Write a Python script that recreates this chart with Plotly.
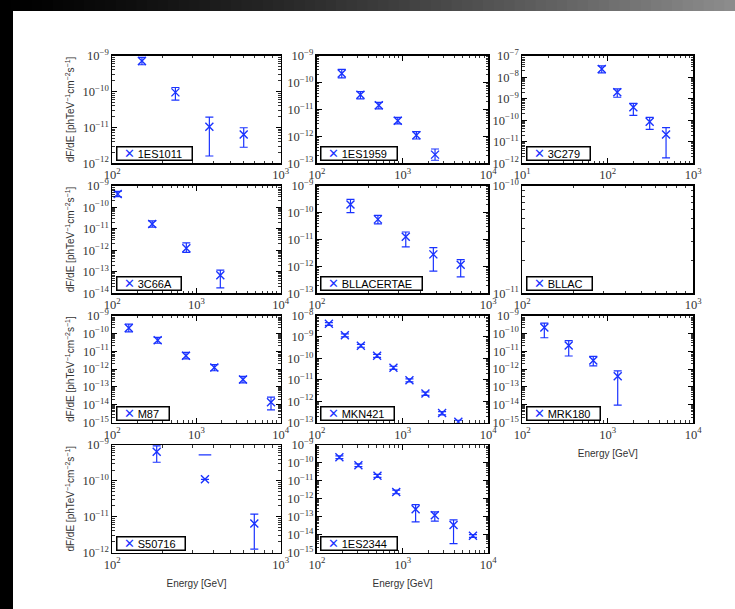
import plotly.graph_objects as go

# ---------------- data ----------------
sources = ["1ES1011", "1ES1959", "3C279", "3C66A", "BLLACERTAE", "BLLAC",
           "M87", "MKN421", "MRK180", "S50716", "1ES2344"]

# energies [GeV]
e_1ES1011 = [150, 237, 377, 603]
e_1ES1959 = [195, 322, 528, 879, 1448, 2391]
e_3C279 = [85, 129, 199, 309, 480]
e_3C66A = [116, 298, 757, 1918]
e_BLLACERTAE = [157, 227, 330, 478, 690]
e_BLLAC = []
e_M87 = [157, 346, 750, 1627, 3566, 7670]
e_MKN421 = [138, 212, 326, 504, 782, 1202, 1847, 2890, 4470]
e_MRK180 = [181, 349, 676, 1306]
e_S50716 = [183.5, 355, 697]
e_1ES2344 = [183, 305, 509, 843, 1419, 2376, 3930, 6620]

# flux dF/dE
f_1ES1011 = [7.1e-10, 9.5e-11, 1.05e-11, 6.4e-12]
f_1ES1959 = [2.2e-10, 3.5e-11, 1.43e-11, 3.8e-12, 1.1e-12, 2.1e-13]
f_3C279 = [2.4e-8, 2.0e-9, 4.0e-10, 8.6e-11, 2.2e-11]
f_3C66A = [4.1e-10, 1.66e-11, 1.23e-12, 6.9e-14]
f_BLLACERTAE = [2.0e-10, 5.6e-11, 1.27e-11, 2.8e-12, 1.16e-12]
f_BLLAC = []
f_M87 = [2.0e-10, 4.1e-11, 5.6e-12, 1.24e-12, 2.6e-13, 1.4e-14]
f_MKN421 = [4.1e-9, 1.2e-9, 3.9e-10, 1.33e-10, 3.7e-11, 9.5e-12, 2.3e-12, 2.8e-13, 1.1e-13]
f_MRK180 = [2.1e-10, 2.1e-11, 3.0e-12, 4.0e-13]
f_S50716 = [6.5e-10, 1.1e-10, 6.4e-12]
f_1ES2344 = [2.1e-10, 7.4e-11, 1.9e-11, 2.4e-12, 2.6e-13, 1.2e-13, 3.4e-14, 8.5e-15]

# upper ends of the error bars
hi_1ES1011 = [9.0e-10, 1.3e-10, 1.95e-11, 9.8e-12]
hi_1ES1959 = [3.1e-10, 4.6e-11, 1.85e-11, 5.1e-12, 1.5e-12, 3.4e-13]
hi_3C279 = [3.4e-8, 2.9e-9, 6.1e-10, 1.37e-10, 4.5e-11]
hi_3C66A = [5.5e-10, 2.3e-11, 2.2e-12, 1.2e-13]
hi_BLLACERTAE = [3.1e-10, 7.9e-11, 1.9e-11, 5.0e-12, 1.8e-12]
hi_BLLAC = []
hi_M87 = [3.3e-10, 6.0e-11, 8.7e-12, 1.8e-12, 3.9e-13, 2.7e-14]
hi_MKN421 = [4.7e-9, 1.4e-9, 4.5e-10, 1.55e-10, 4.3e-11, 1.1e-11, 2.7e-12, 3.3e-13, 1.3e-13]
hi_MRK180 = [3.7e-10, 3.9e-11, 5.2e-12, 7.9e-13]
hi_S50716 = [9.4e-10, 5.3e-10, 1.18e-11]
hi_1ES2344 = [2.5e-10, 8.8e-11, 2.3e-11, 3.0e-12, 4.7e-13, 1.85e-13, 6.7e-14, 1.0e-14]

# lower ends of the error bars (0 = lower end below zero, not drawn)
lo_1ES1011 = [5.6e-10, 5.8e-11, 1.6e-12, 2.8e-12]
lo_1ES1959 = [1.5e-10, 2.5e-11, 1.05e-11, 2.9e-12, 8.0e-13, 1.3e-13]
lo_3C279 = [1.6e-8, 1.17e-9, 1.7e-10, 3.8e-11, 1.8e-12]
lo_3C66A = [3.1e-10, 1.2e-11, 8.0e-13, 1.8e-14]
lo_BLLACERTAE = [1.0e-10, 3.8e-11, 5.3e-12, 6.7e-13, 4.1e-13]
lo_BLLAC = []
lo_M87 = [1.2e-10, 2.8e-11, 3.7e-12, 8.1e-13, 1.7e-13, 5.2e-15]
lo_MKN421 = [3.5e-9, 1.0e-9, 3.3e-10, 1.12e-10, 3.1e-11, 8.0e-12, 1.9e-12, 2.3e-13, 0.9e-13]
lo_MRK180 = [5.7e-11, 5.4e-12, 1.5e-12, 9.7e-15]
lo_S50716 = [3.3e-10, 0.0, 1.24e-12]
lo_1ES2344 = [1.75e-10, 6.2e-11, 1.55e-11, 1.9e-12, 5.1e-14, 5.6e-14, 3.1e-15, 7.0e-15]

# axis ranges (log10 decades)
xrange_log = [[2, 3], [2, 4], [1, 3], [2, 4], [2, 3], [2, 3], [2, 4], [2, 4], [2, 4], [2, 3], [2, 4]]
yrange_log = [[-12, -9], [-13, -9], [-12, -7], [-14, -9], [-13, -9], [-11, -10],
              [-15, -9], [-13, -8], [-15, -9], [-12, -9], [-15, -9]]

ytitle = "dF/dE [phTeV<sup>−1</sup>cm<sup>−2</sup>s<sup>−1</sup>]"
xtitle = "Energy [GeV]"

data = {
    "1ES1011": (e_1ES1011, f_1ES1011, hi_1ES1011, lo_1ES1011),
    "1ES1959": (e_1ES1959, f_1ES1959, hi_1ES1959, lo_1ES1959),
    "3C279": (e_3C279, f_3C279, hi_3C279, lo_3C279),
    "3C66A": (e_3C66A, f_3C66A, hi_3C66A, lo_3C66A),
    "BLLACERTAE": (e_BLLACERTAE, f_BLLACERTAE, hi_BLLACERTAE, lo_BLLACERTAE),
    "BLLAC": (e_BLLAC, f_BLLAC, hi_BLLAC, lo_BLLAC),
    "M87": (e_M87, f_M87, hi_M87, lo_M87),
    "MKN421": (e_MKN421, f_MKN421, hi_MKN421, lo_MKN421),
    "MRK180": (e_MRK180, f_MRK180, hi_MRK180, lo_MRK180),
    "S50716": (e_S50716, f_S50716, hi_S50716, lo_S50716),
    "1ES2344": (e_1ES2344, f_1ES2344, hi_1ES2344, lo_1ES2344),
}

# ---------------- layout geometry ----------------
W, H = 735, 609
col_px = [(112.3, 280.7), (316.9, 488.3), (522.3, 693.3)]
row_px = [(55.7, 163.3), (185.7, 293.3), (315.5, 422.7), (445.0, 552.5)]

BLUE = "#1a33ff"
SERIF = "Liberation Serif, DejaVu Serif, serif"
SANS = "Liberation Sans, Arial, sans-serif"
NB = "\u00a0"

fig = go.Figure()
layout = dict(
    template="none",
    width=W, height=H, margin=dict(l=0, r=0, t=0, b=0, pad=0, autoexpand=False),
    paper_bgcolor="white", plot_bgcolor="white", showlegend=False,
    hovermode=False,
)
annotations = []

for i, name in enumerate(sources):
    r, c = divmod(i, 3)
    k = i + 1
    xs = "" if k == 1 else str(k)
    x0, x1 = col_px[c]
    y0, y1 = row_px[r]
    xdom = [x0 / W, x1 / W]
    ydom = [1 - y1 / H, 1 - y0 / H]

    E, F, HI, LO = data[name]
    ep = [(h - f) if l > 0 else 0 for h, f, l in zip(HI, F, LO)]
    em = [(f - l) if l > 0 else 0 for f, l in zip(F, LO)]

    fig.add_trace(go.Scatter(
        x=E, y=F, mode="markers", name=name,
        xaxis="x" + xs, yaxis="y" + xs,
        marker=dict(symbol="x-thin-open", size=8, color=BLUE, line=dict(width=1.4, color=BLUE)),
        error_y=dict(type="data", symmetric=False, array=ep, arrayminus=em,
                     color=BLUE, thickness=1.2, width=4),
    ))
    # points whose lower error end falls below zero: only the upper cap is drawn
    capx = [e for e, l in zip(E, LO) if l <= 0]
    capy = [h for h, l in zip(HI, LO) if l <= 0]
    if capx:
        fig.add_trace(go.Scatter(
            x=capx, y=capy, mode="markers", name=name + " upper",
            xaxis="x" + xs, yaxis="y" + xs,
            marker=dict(symbol="line-ew-open", size=9, color=BLUE, line=dict(width=1.2, color=BLUE)),
        ))

    axcommon = dict(
        type="log", dtick=1, tick0=0, ticks="inside", ticklen=5, tickwidth=1,
        tickcolor="black", showline=True, linecolor="black", linewidth=1.5,
        mirror="allticks", showgrid=False, zeroline=False, exponentformat="power",
        automargin=False, fixedrange=True,
        tickfont=dict(family=SERIF, size=10, color="#333333"),
        labelalias={"10": "10<sup>1</sup>"},
        minor=dict(ticks="inside", ticklen=2.5, dtick="D1", tickcolor="black",
                   tickwidth=0.8, showgrid=False),
    )
    xa = dict(axcommon, domain=xdom, range=xrange_log[i], anchor="y" + xs)
    ya = dict(axcommon, domain=ydom, range=yrange_log[i], anchor="x" + xs)
    if c == 0:
        ya["title"] = dict(text=ytitle, standoff=6, font=dict(family=SANS, size=10, color="#333333"))
    if k in (9, 10, 11):
        xa["title"] = dict(text=xtitle, standoff=9, font=dict(family=SANS, size=10, color="#333333"))
    layout["xaxis" + xs] = xa
    layout["yaxis" + xs] = ya

    # legend box in the lower-left corner of each panel
    annotations.append(dict(
        xref="paper", yref="paper", x=(x0 + 3.5) / W, y=1 - (y1 - 2) / H,
        xanchor="left", yanchor="bottom", showarrow=False,
        text=(NB * 2 + "<span style='color:%s;font-size:13px'>✕</span>" % BLUE
              + NB + name + NB * 3),
        font=dict(family=SANS, size=11, color="black"),
        bgcolor="white", bordercolor="black", borderwidth=1.5, borderpad=0,
        height=12,
    ))

# window frame: black strip on the left, grey gradient strip along the top
shapes = [dict(type="rect", xref="paper", yref="paper", x0=-0.05, x1=13 / W, y0=-0.05, y1=1.05,
               fillcolor="black", line=dict(width=0), layer="above")]
nseg = 70
for s in range(nseg):
    t = s / (nseg - 1)
    g = int(round(140 * t ** 1.3))
    shapes.append(dict(type="rect", xref="paper", yref="paper",
                       x0=s / nseg, x1=(s + 1) / nseg + 0.001, y0=1 - 11 / H, y1=1,
                       fillcolor="rgb(%d,%d,%d)" % (g, g, g), line=dict(width=0), layer="above"))
layout["shapes"] = shapes
layout["annotations"] = annotations

fig.update_layout(**layout)
fig.write_html("out.html", config={"displayModeBar": False, "staticPlot": True},
               post_script="document.body.style.margin='0px';document.documentElement.style.margin='0px';")
